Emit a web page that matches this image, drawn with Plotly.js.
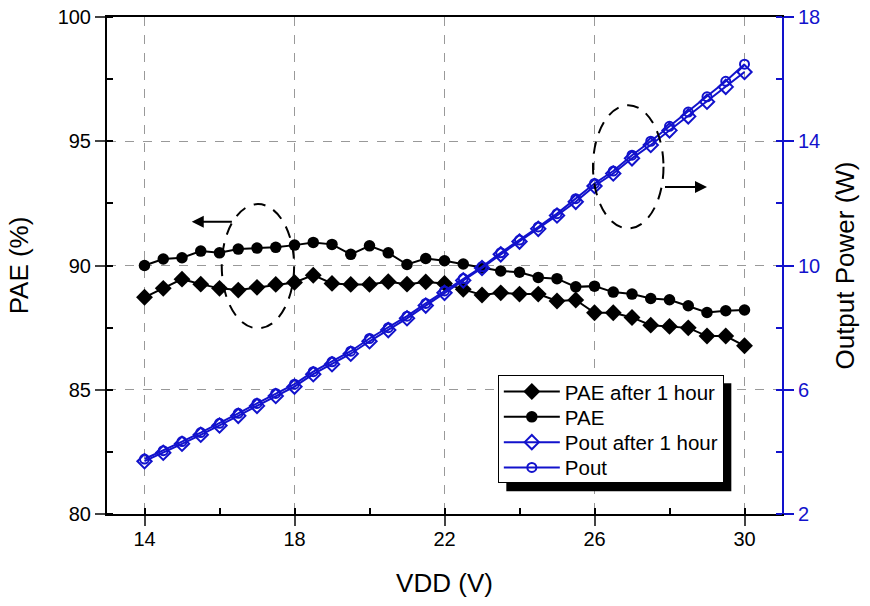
<!DOCTYPE html>
<html>
<head>
<meta charset="utf-8">
<script src="https://cdn.plot.ly/plotly-3.0.1.min.js"></script>
<style>html,body{margin:0;padding:0;background:#fff;}#chart{width:870px;height:606px;}</style>
</head>
<body>
<div id="chart"></div>
<script>
var vdd = [14,14.5,15,15.5,16,16.5,17,17.5,18,18.5,19,19.5,20,20.5,21,21.5,22,22.5,23,23.5,24,24.5,25,25.5,26,26.5,27,27.5,28,28.5,29,29.5,30];
var paeAfter1h = [88.72,89.08,89.45,89.25,89.08,89.01,89.12,89.24,89.32,89.61,89.28,89.24,89.24,89.35,89.25,89.34,89.28,89.04,88.81,88.90,88.85,88.85,88.57,88.61,88.10,88.10,87.91,87.60,87.55,87.49,87.16,87.16,86.77];
var pae = [90.00,90.26,90.31,90.58,90.51,90.66,90.70,90.73,90.82,90.93,90.85,90.45,90.79,90.51,90.04,90.28,90.19,90.06,89.90,89.78,89.73,89.52,89.47,89.14,89.17,88.93,88.85,88.67,88.62,88.38,88.11,88.18,88.21];
var poutAfter1h = [3.70,3.97,4.26,4.55,4.85,5.16,5.48,5.80,6.10,6.50,6.82,7.16,7.56,7.92,8.30,8.71,9.12,9.52,9.92,10.36,10.77,11.18,11.61,12.05,12.56,12.96,13.45,13.88,14.35,14.80,15.27,15.75,16.23];
var pout = [3.77,4.04,4.33,4.62,4.92,5.24,5.56,5.88,6.18,6.58,6.90,7.24,7.65,8.00,8.37,8.78,9.18,9.58,9.96,10.41,10.82,11.24,11.67,12.15,12.64,13.04,13.55,14.00,14.48,14.94,15.43,15.93,16.48];
var names = ['PAE after 1 hour','PAE','Pout after 1 hour','Pout'];

var BLUE = '#1212cc';
var traces = [
  {x: vdd, y: paeAfter1h, name: names[0], type: 'scatter', mode: 'lines+markers',
   line: {color: '#000', width: 2}, marker: {symbol: 'diamond', size: 13, color: '#000'}},
  {x: vdd, y: pae, name: names[1], type: 'scatter', mode: 'lines+markers',
   line: {color: '#000', width: 2}, marker: {symbol: 'circle', size: 11.5, color: '#000'}},
  {x: vdd, y: poutAfter1h, name: names[2], type: 'scatter', mode: 'lines+markers', yaxis: 'y2',
   line: {color: BLUE, width: 2}, marker: {symbol: 'diamond-open', size: 11, color: BLUE, line: {width: 2, color: BLUE}}},
  {x: vdd, y: pout, name: names[3], type: 'scatter', mode: 'lines+markers', yaxis: 'y2',
   line: {color: BLUE, width: 2}, marker: {symbol: 'circle-open', size: 9, color: BLUE, line: {width: 2, color: BLUE}}}
];

var FONT = 'Liberation Sans, Arial, sans-serif';
var layout = {
  width: 870, height: 606,
  margin: {l: 107, r: 88, t: 17, b: 92},
  paper_bgcolor: '#fff', plot_bgcolor: '#fff',
  font: {family: FONT, color: '#000', size: 20},
  showlegend: true,
  legend: {x: 0.579, y: 0.28, xanchor: 'left', yanchor: 'top', bgcolor: '#fff',
           bordercolor: '#000', borderwidth: 1, font: {size: 20.5, family: FONT},
           tracegroupgap: 0, itemwidth: 56, entrywidth: 177},
  xaxis: {range: [13, 31], tick0: 14, dtick: 4, ticks: 'outside', ticklen: 10, tickwidth: 2,
          showline: true, linewidth: 2, linecolor: '#000', mirror: true, zeroline: false,
          showgrid: true, gridcolor: '#999', griddash: 'dash', gridwidth: 1,
          minor: {dtick: 2, ticks: 'inside', ticklen: 6, tickwidth: 2, tickcolor: '#000', showgrid: false},
          ticklabelstandoff: -4,
          tickfont: {size: 20}, title: {text: 'VDD (V)', font: {size: 26}, standoff: 25}},
  yaxis: {range: [80, 100], tick0: 80, dtick: 5, ticks: 'outside', ticklen: 10, tickwidth: 2,
          showline: true, linewidth: 2, linecolor: '#000', zeroline: false,
          showgrid: true, gridcolor: '#999', griddash: 'dash', gridwidth: 1,
          minor: {dtick: 2.5, ticks: 'inside', ticklen: 6, tickwidth: 2, tickcolor: '#000', showgrid: false},
          tickfont: {size: 20}, title: {text: 'PAE (%)', font: {size: 26}, standoff: 22}},
  yaxis2: {range: [2, 18], tick0: 2, dtick: 4, overlaying: 'y', side: 'right', anchor: 'x',
           ticks: 'outside', ticklen: 10, tickwidth: 2, tickcolor: BLUE,
           showline: true, linewidth: 2, linecolor: BLUE, zeroline: false, showgrid: false,
           minor: {dtick: 2, ticks: 'inside', ticklen: 6, tickwidth: 2, tickcolor: BLUE, showgrid: false},
           tickfont: {size: 20, color: BLUE}, title: {text: 'Output Power (W)', font: {size: 26, color: '#000'}, standoff: 17}},
  shapes: [
    {type: 'circle', xref: 'x', yref: 'y', x0: 16.06, x1: 17.99, y0: 87.47, y1: 92.47,
     line: {color: '#000', width: 2, dash: '12px,9px'}},
    {type: 'circle', xref: 'x', yref: 'y', x0: 25.96, x1: 27.84, y0: 91.49, y1: 96.45,
     line: {color: '#000', width: 2, dash: '12px,9px'}}
  ],
  annotations: [
    {xref: 'x', yref: 'y', axref: 'x', ayref: 'y', x: 15.26, y: 91.76, ax: 16.37, ay: 91.76,
     text: '', showarrow: true, arrowhead: 2, arrowsize: 1.2, arrowwidth: 2, arrowcolor: '#000'},
    {xref: 'x', yref: 'y', axref: 'x', ayref: 'y', x: 29.0, y: 93.16, ax: 27.84, ay: 93.16,
     text: '', showarrow: true, arrowhead: 2, arrowsize: 1.2, arrowwidth: 2, arrowcolor: '#000'}
  ]
};

var LEG_H = 108, ROW = 25.3, FIRST = 16.7, OFF = 8;
var gd = document.getElementById('chart');
Plotly.newPlot(gd, traces, layout, {displayModeBar: false, staticPlot: true}).then(function () {
  var bg = gd.querySelector('.legend .bg');
  if (!bg) return;
  var lb = bg.getBoundingClientRect();
  var cb = gd.getBoundingClientRect();
  var fs = gd._fullLayout._size;
  var px = function (x) { return (x - cb.left - fs.l) / fs.w; };
  var py = function (y) { return (fs.t + fs.h - (y - cb.top)) / fs.h; };
  var top = lb.top;
  var shapes = layout.shapes.concat([{type: 'rect', xref: 'paper', yref: 'paper',
    x0: px(lb.left + OFF), x1: px(lb.right + OFF), y0: py(top + LEG_H + OFF), y1: py(top + OFF),
    fillcolor: '#000', line: {width: 0}, layer: 'above'}]);
  return Plotly.relayout(gd, {shapes: shapes});
}).then(function () {
  // tighten legend row spacing to match the reference
  var bg = gd.querySelector('.legend .bg');
  if (!bg) return;
  bg.setAttribute('height', LEG_H - 1);
  var items = gd.querySelectorAll('.legend .traces');
  items.forEach(function (g, i) {
    var t = g.getAttribute('transform') || '';
    var m = t.match(/translate\(\s*([-\d.]+)[ ,]+([-\d.]+)\s*\)/);
    var x = m ? parseFloat(m[1]) : 0;
    g.setAttribute('transform', 'translate(' + x + ',' + (FIRST + i * ROW) + ')');
  });
  var clip = gd.querySelectorAll('clipPath[id^="legend"] rect');
  clip.forEach(function (r) { r.setAttribute('height', LEG_H); });
});
</script>
</body>
</html>
